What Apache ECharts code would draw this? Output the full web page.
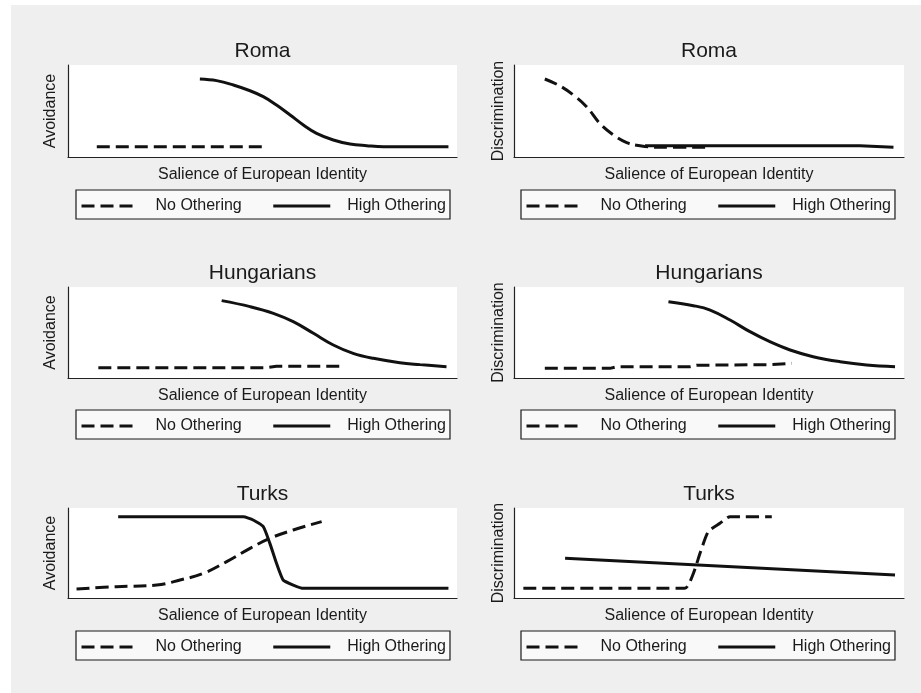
<!DOCTYPE html>
<html>
<head>
<meta charset="utf-8">
<script src="https://cdn.jsdelivr.net/npm/echarts@6/dist/echarts.min.js"></script>
<style>
  html, body { margin: 0; padding: 0; background: #ffffff; }
  #bg { position: absolute; left: 11px; top: 5px; width: 910px; height: 688px; background: #efefef; }
  #chart { position: absolute; left: 0; top: 0; width: 921px; height: 693px; }
</style>
</head>
<body>
<div id="bg"></div>
<div id="chart"></div>
<script>
// ---- Data (x: salience 0-100, y: outcome 0-100) ----
const titles = ['Roma', 'Roma', 'Hungarians', 'Hungarians', 'Turks', 'Turks'];
const yLabels = ['Avoidance', 'Discrimination', 'Avoidance', 'Discrimination', 'Avoidance', 'Discrimination'];
const xLabel = 'Salience of European Identity';
const seriesNames = ['No Othering', 'High Othering'];

const romaAvoidNo = [[7.4, 11.2], [50.6, 11.2]];
const romaAvoidHigh = [[33.9, 84.8], [38.2, 83], [42.5, 78.3], [46.8, 72], [50.2, 65.6], [53.6, 56.5], [57.1, 45.7], [60.5, 34.8], [63.9, 25.7], [68.2, 18.5], [72.5, 14.1], [76.8, 12.3], [81.1, 11.2], [97.8, 11.2]];

const romaDiscNo = [[7.9, 84.8], [11.8, 77.2], [15.2, 67.4], [18.6, 54.7], [22, 36.6], [25.5, 23.9], [28.9, 15.6], [32.3, 12.3], [37.4, 10.5], [50.3, 10.5]];
const romaDiscHigh = [[33.6, 12.3], [88.7, 12.3], [97.3, 10.5]];

const hungAvoidNo = [[7.8, 11.4], [51.1, 11.4], [53.6, 12.8], [70.8, 12.8]];
const hungAvoidHigh = [[39.5, 85], [46.8, 78.4], [52.8, 71.1], [57.9, 61.9], [63.1, 49.1], [68.2, 36.3], [73.3, 27.1], [78.5, 21.6], [85.3, 16.8], [90.5, 14.7], [97.3, 12.4]];

const hungDiscNo = [[7.9, 10.6], [24.6, 10.6], [26.3, 12.4], [45.1, 12.4], [46.8, 14], [65.6, 14.7], [71.2, 16.1]];
const hungDiscHigh = [[39.6, 83.8], [46, 79.5], [50.3, 74.7], [55.4, 63.7], [60.5, 50.9], [65.6, 39.9], [70.8, 30.8], [76.7, 23.4], [83.6, 17.9], [90.4, 14.3], [97.7, 12.4]];

const turkAvoidNo = [[2.2, 10], [12.5, 12.6], [22.8, 14.4], [28.8, 20], [34.8, 27.4], [40.8, 40.4], [46.8, 55.2], [51.9, 66.3], [57.9, 75.6], [65.2, 84.8]];
const turkAvoidHigh = [[12.9, 90.3], [45.1, 90.3], [47.6, 86.7], [50.2, 79.3], [51.9, 60.7], [53.6, 38.5], [55.3, 20], [57.9, 14.4], [60.5, 10.7], [97.8, 10.7]];

const turkDiscNo = [[2.4, 10.7], [43.8, 10.7], [46, 27.4], [47.7, 49.6], [49.8, 73.7], [52.8, 83], [55.4, 90.4], [66.1, 90.4]];
const turkDiscHigh = [[13.1, 44.1], [97.7, 25.6]];

const noOthering = [romaAvoidNo, romaDiscNo, hungAvoidNo, hungDiscNo, turkAvoidNo, turkDiscNo];
const highOthering = [romaAvoidHigh, romaDiscHigh, hungAvoidHigh, hungDiscHigh, turkAvoidHigh, turkDiscHigh];
const smoothNo = [false, 0.4, false, false, 0.4, 0.2];
const smoothHigh = [0.4, false, 0.4, 0.4, 0.15, false];

// ---- Layout ----
const gridLeft = [68, 514];
const gridWidth = [389, 390];
const gridTop = [65, 287, 508];
const gridHeight = [92, 91, 90];
const legendLeft = [76, 521];
const legendTop = [190, 410, 631];
const titleTop = [41, 263, 484];
const yNameGap = [9, 7];

const FONT = 'Liberation Sans, Arial, sans-serif';
const TXT = '#1a1a1a';
const LINE = '#111111';

const grid = [], xAxis = [], yAxis = [], series = [], title = [], legend = [];
for (let i = 0; i < 6; i++) {
  const col = i % 2, row = Math.floor(i / 2);
  grid.push({
    left: gridLeft[col], top: gridTop[row], width: gridWidth[col], height: gridHeight[row],
    show: true, backgroundColor: '#ffffff', borderWidth: 0
  });
  xAxis.push({
    gridIndex: i, type: 'value', min: 0, max: 100,
    name: xLabel, nameLocation: 'middle', nameGap: 10,
    nameTextStyle: { fontFamily: FONT, fontSize: 16, color: TXT },
    axisLine: { show: true, onZero: false, lineStyle: { color: '#222', width: 1.2 } },
    axisTick: { show: false }, axisLabel: { show: false }, splitLine: { show: false }
  });
  yAxis.push({
    gridIndex: i, type: 'value', min: 0, max: 100,
    name: yLabels[i], nameLocation: 'middle', nameGap: yNameGap[col],
    nameTextStyle: { fontFamily: FONT, fontSize: 16, color: TXT },
    axisLine: { show: true, onZero: false, lineStyle: { color: '#222', width: 1.2 } },
    axisTick: { show: false }, axisLabel: { show: false }, splitLine: { show: false }
  });
  title.push({
    text: titles[i], left: gridLeft[col] + gridWidth[col] / 2, top: titleTop[row],
    padding: 0, textAlign: 'center', textVerticalAlign: 'top',
    textStyle: { fontFamily: FONT, fontSize: 21, fontWeight: 'normal', color: TXT }
  });
  legend.push({
    data: seriesNames, left: legendLeft[col], top: legendTop[row],
    orient: 'horizontal', selectedMode: false,
    padding: [8, 4, 5, 4], itemGap: 30, itemWidth: 57, itemHeight: 14,
    borderColor: '#1a1a1a', borderWidth: 1.2, borderRadius: 0, backgroundColor: '#f9f9f9',
    itemStyle: { opacity: 0 },
    lineStyle: { width: 3, color: LINE },
    textStyle: { fontFamily: FONT, fontSize: 16, color: TXT, padding: [0, 0, 0, 12] }
  });
  series.push({
    name: seriesNames[0], type: 'line', xAxisIndex: i, yAxisIndex: i,
    data: noOthering[i], symbol: 'none', showSymbol: false, smooth: smoothNo[i],
    lineStyle: { color: LINE, width: 3, type: [13, 6], cap: 'butt' }, itemStyle: { color: LINE },
    silent: true, animation: false
  });
  series.push({
    name: seriesNames[1], type: 'line', xAxisIndex: i, yAxisIndex: i,
    data: highOthering[i], symbol: 'none', showSymbol: false, smooth: smoothHigh[i],
    lineStyle: { color: LINE, width: 3, type: 'solid' }, itemStyle: { color: LINE },
    silent: true, animation: false
  });
}

const chart = echarts.init(document.getElementById('chart'), null, { renderer: 'canvas' });
chart.setOption({ animation: false, backgroundColor: 'transparent', grid, xAxis, yAxis, series, title, legend });
</script>
</body>
</html>
